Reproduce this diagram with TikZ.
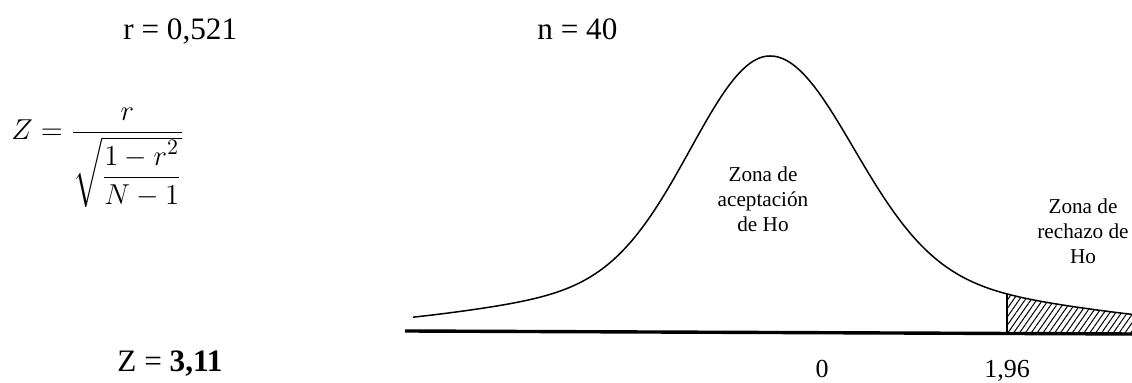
\documentclass[tikz,border=0pt]{standalone}
\usepackage{amsmath}
\usepackage{fontspec}
\setmainfont{Liberation Serif}
\usetikzlibrary{patterns.meta}
\tikzset{
  bigtxt/.style={inner sep=0pt, font=\fontsize{15.6}{18}\selectfont},
  smalltxt/.style={inner sep=0pt, align=center, font=\fontsize{10.6}{12.5}\selectfont},
  curveline/.style={line width=0.75pt},
  axisline/.style={line width=1.7pt},
  hatch/.style={pattern={Lines[angle=55, distance=2.4pt, line width=0.5pt]}},
}
% density shape: left and right halves (d in hundreds of px)
\tikzset{declare function={
  lefty(\t)=332-276*(0.8*exp(-((\t-770)/100)^2/1.2168)+0.2*exp(-((\t-770)/100)^2/9.68));
  righty(\t)=333-277*(0.79*exp(-((\t-770)/100)^2/1.3448)+0.21*exp(-((\t-770)/100)^2/11.5));
}}
\begin{document}
\begin{tikzpicture}[x=0.5pt,y=-0.5pt]
\useasboundingbox (0,0) rectangle (1132,383);
% texts
\node[bigtxt, anchor=base west] (rval) at (123,40) {r = 0,521};
\node[bigtxt, anchor=base west] (nval) at (537,40) {n = 40};
\node[inner sep=0pt, anchor=base west, font=\fontsize{15}{18}\selectfont] (formula) at (11,140)
  {$\displaystyle Z=\frac{r}{\sqrt{\dfrac{1-r^{2}}{N-1}}}$};
\node[bigtxt, anchor=base west] (zval) at (117,372) {Z = \textbf{3,11}};
% curve
\draw[curveline] plot[domain=413:770, samples=90, smooth] (\x,{lefty(\x)})
  -- plot[domain=770:1132, samples=90, smooth] (\x,{righty(\x)});
% hatched tail
\begin{scope}
  \clip (1007,0) rectangle (1132,333);
  \fill[hatch] plot[domain=1000:1132, samples=30, smooth] (\x,{righty(\x)})
    -- (1132,334) -- (1000,334) -- cycle;
\end{scope}
\coordinate (cut top) at (1007,{righty(1007)});
\coordinate (cut bot) at (1007,333);
\draw[line width=0.6pt] (cut top) -- (cut bot);
% axis
\coordinate (axL) at (405,331);
\coordinate (axR) at (1132,334);
\draw[axisline] (axL) -- (axR);
% labels
\node[smalltxt] (acc) at (763,199) {Zona de\\aceptación\\de Ho};
\node[smalltxt] (rej) at (1083,231) {Zona de\\rechazo de\\Ho};
\node[bigtxt, font=\fontsize{13}{15}\selectfont, anchor=base] (zero) at (822,378) {0};
\node[bigtxt, font=\fontsize{13}{15}\selectfont, anchor=base] (crit) at (1007,378) {1,96};
\end{tikzpicture}
\end{document}
